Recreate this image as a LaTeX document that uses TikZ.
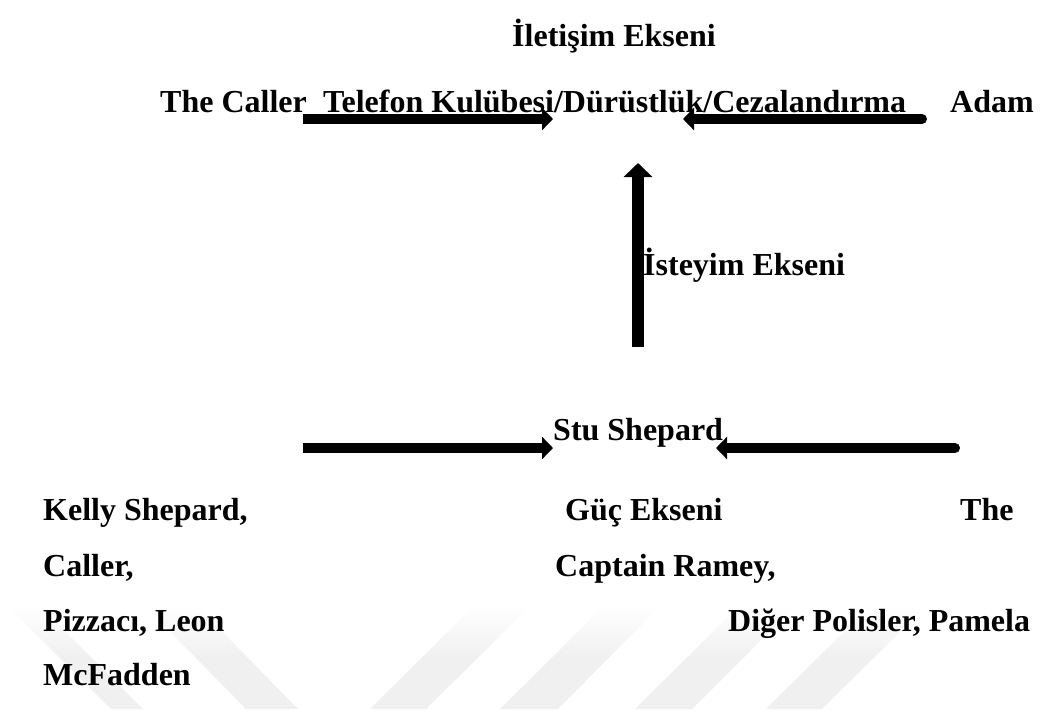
\documentclass[tikz,border=0pt]{standalone}
\usepackage{fontspec}
\setmainfont{Liberation Serif}
\usetikzlibrary{arrows.meta}
\definecolor{wmgray}{RGB}{240,240,240}
\tikzset{
  lbl/.style={anchor=base west, inner sep=0pt, font=\fontsize{32}{38}\selectfont\bfseries},
  harrow/.style={line width=10pt, -{Triangle[length=11pt,width=22pt]}},
  varrow/.style={line width=12pt, -{Triangle[length=14pt,width=28pt]}},
  wm/.style={draw=none, top color=white, bottom color=wmgray, middle color=wmgray, shading angle=0}
}
\begin{document}
\begin{tikzpicture}[x=1pt,y=-1pt]
\useasboundingbox (0,0) rectangle (1056,709);
\fill[white] (0,0) rectangle (1056,709);
% watermark bands
\shade[wm] (8,606) -- (40,606) -- (143,709) -- (111,709) -- cycle;
\shade[wm] (145,606) -- (197,606) -- (298,709) -- (246,709) -- cycle;
\shade[wm] (474,606) -- (530,606) -- (426,709) -- (370,709) -- cycle;
\shade[wm] (604,606) -- (660,606) -- (558,709) -- (500,709) -- cycle;
\shade[wm] (739,606) -- (795,606) -- (692,709) -- (635,709) -- cycle;
\shade[wm] (870,606) -- (926,606) -- (822,709) -- (766,709) -- cycle;
% texts
\node[lbl] (ilet) at (512,47) {İletişim Ekseni};
\node[lbl] (caller) at (160,112) {The Caller\_};
\node[lbl] (tel) at (323,112) {Telefon Kulübesi/Dürüstlük/Cezalandırma};
\node[lbl] (adam) at (950,112) {Adam};
\node[lbl] (istey) at (643,275) {İsteyim Ekseni};
\node[lbl] (stu) at (553,440) {Stu Shepard};
\node[lbl] (kelly) at (43,520) {Kelly Shepard,};
\node[lbl] (guc) at (565,520) {Güç Ekseni};
\node[lbl] (the) at (960,520) {The};
\node[lbl] (caller2) at (43,576) {Caller,};
\node[lbl] (ramey) at (555,576) {Captain Ramey,};
\node[lbl] (pizza) at (43,631) {Pizzacı, Leon};
\node[lbl] (diger) at (728,631) {Diğer Polisler, Pamela};
\node[lbl] (mcf) at (43,685) {McFadden};
% arrow end points
\coordinate (t1s) at (303,119);
\coordinate (t1e) at (553,119);
\coordinate (t2s) at (922,119);
\coordinate (t2e) at (683,119);
\coordinate (vs) at (638,347);
\coordinate (ve) at (638,163);
\coordinate (m1s) at (303,448);
\coordinate (m1e) at (553,448);
\coordinate (m2s) at (955,448);
\coordinate (m2e) at (716,448);
% arrows
\draw[harrow] (t1s) -- (t1e);
\draw[harrow, line cap=round] (t2s) -- (t2e);
\draw[varrow] (vs) -- (ve);
\draw[harrow] (m1s) -- (m1e);
\draw[harrow, line cap=round] (m2s) -- (m2e);
\end{tikzpicture}
\end{document}
